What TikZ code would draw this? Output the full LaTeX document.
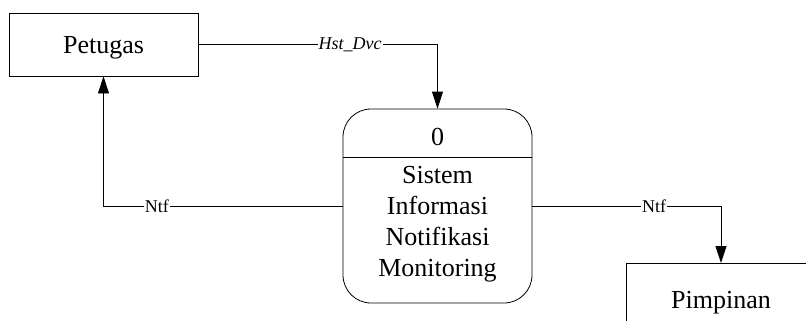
\documentclass[tikz,border=0pt]{standalone}
\usepackage{fontspec}
\setmainfont{Liberation Serif}
\usetikzlibrary{arrows.meta}
\begin{document}
\begin{tikzpicture}[x=1pt,y=-1pt, line width=0.8pt,
  big/.style={font=\fontsize{26}{31}\selectfont},
  ent/.style={draw, big, minimum width=189pt, minimum height=63pt, inner sep=0pt, text depth=0pt},
  flow/.style={-{Triangle[width=11pt,length=17pt]}},
  lbl/.style={fill=white, inner sep=1pt, font=\fontsize{18}{18}\selectfont}]
\useasboundingbox (0,0) rectangle (806,321);
% external entities
\node[ent] (pet) at (103.5,44.5) {Petugas};
\coordinate (pimbl) at (626,321);
\coordinate (pimtl) at (626,263);
\coordinate (pimtr) at (806,263);
\draw (pimbl) -- (pimtl) -- (pimtr);
\node[big, text depth=0pt] (pim) at (721,300) {Pimpinan};
% process
\node[draw, rounded corners=28pt, minimum width=189pt, minimum height=194pt] (proc) at (437.5,206) {};
\coordinate (divl) at (343,157);
\coordinate (divr) at (532,157);
\draw (divl) -- (divr);
\node[big] (pid) at (437.5,137) {0};
\node[big, align=center, anchor=north, inner sep=0pt] (pname) at (437.5,165.5) {Sistem\\Informasi\\Notifikasi\\Monitoring};
% flows
\coordinate (c1) at (437.5,44.5);
\draw[flow] (pet.east) -- node[lbl, pos=0.635] {\itshape Hst\_Dvc} (c1) -- (proc.north);
\coordinate (c2) at (103.5,206);
\draw[flow] (proc.west) -- node[lbl, pos=0.777] {Ntf} (c2) -- (pet.south);
\coordinate (c3) at (721,206);
\coordinate (c4) at (721,263);
\draw[flow] (proc.east) -- node[lbl, pos=0.646] {Ntf} (c3) -- (c4);
\end{tikzpicture}
\end{document}
